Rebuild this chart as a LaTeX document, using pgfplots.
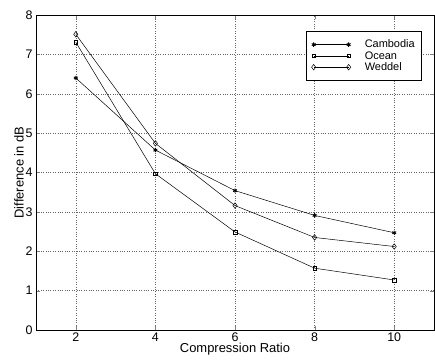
\documentclass[border=0pt]{standalone}
\usepackage{pgfplots}
\pgfplotsset{compat=1.18}
\usepackage{fontspec}
\setmainfont{Liberation Sans}
\begin{document}
\begin{tikzpicture}
\begin{axis}[
  at={(0,0)}, anchor=south west,
  scale only axis,
  width=398bp, height=315bp,
  xmin=1, xmax=11, ymin=0, ymax=8,
  xtick={2,4,6,8,10}, ytick={0,1,...,8},
  tick align=inside,
  xtick pos=both, ytick pos=both,
  major tick length=4bp,
  grid=major,
  major grid style={black!60, dotted, line width=0.5pt},
  axis line style={line width=0.6pt},
  /pgf/number format/assume math mode=true,
  tick label style={font=\fontsize{12.5}{13}\selectfont},
  xticklabel style={yshift=1bp},
  xlabel={Compression Ratio}, ylabel={Difference in dB},
  label style={font=\fontsize{13}{14}\selectfont},
  xlabel style={yshift=5bp},
  ylabel style={yshift=-5bp},
  legend style={at={(0.970,0.949)}, anchor=north east, draw=black, line width=0.7pt,
    font=\fontsize{11}{12}\selectfont, row sep=0bp, inner xsep=5bp, inner ysep=7.5bp,
    nodes={inner xsep=2bp, inner ysep=1bp},
    /tikz/every odd column/.append style={column sep=12bp}},
  legend cell align=left,
  legend image code/.code={\draw[#1,mark repeat=1] plot coordinates {(0bp,0bp) (35bp,0bp)};},
]
\addplot[black, line width=0.5pt, mark=asterisk, mark size=2.2pt, mark options={solid, line width=0.9pt}] coordinates {(2,6.40) (4,4.57) (6,3.54) (8,2.91) (10,2.47)};
\addlegendentry{Cambodia}
\addplot[black, line width=0.5pt, mark=square, mark size=1.8pt, mark options={solid}] coordinates {(2,7.31) (4,3.97) (6,2.49) (8,1.57) (10,1.27)};
\addlegendentry{Ocean}
\addplot[black, line width=0.5pt, mark=diamond, mark size=2.8pt, mark options={solid}] coordinates {(2,7.51) (4,4.74) (6,3.16) (8,2.35) (10,2.12)};
\addlegendentry{Weddel}
\end{axis}
\pgfresetboundingbox
\path (-36bp,-34bp) rectangle (399bp,330bp);
\end{tikzpicture}
\end{document}
